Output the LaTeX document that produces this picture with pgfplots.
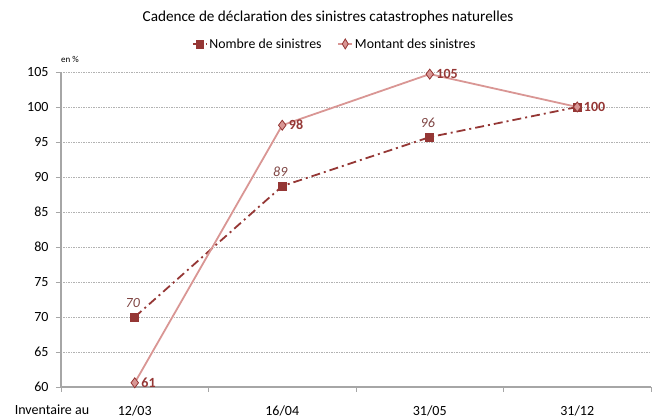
\documentclass[border=0pt]{standalone}
\usepackage{pgfplots}
\pgfplotsset{compat=1.18}
\usepackage{fontspec}
\setmainfont{Carlito}
\definecolor{darkred}{HTML}{953735}
\definecolor{pinkred}{HTML}{D99694}
\definecolor{lab}{HTML}{7E4442}
\definecolor{axgray}{HTML}{A6A6A6}
\begin{document}
\begin{tikzpicture}
\begin{axis}[
  scale only axis, width=590pt, height=315pt,
  at={(0,0)}, anchor=south west,
  xmin=-0.5, xmax=3.5, ymin=60, ymax=105,
  xtick={0,1,2,3}, xticklabels={12/03,16/04,31/05,31/12},
  minor xtick={-0.5,0.5,1.5,2.5,3.5},
  ytick={60,65,...,105},
  axis x line*=bottom, axis y line*=left,
  axis line style={draw=axgray, line width=1.3pt},
  x axis line style={-}, y axis line style={-},
  tick align=outside, major tick length=5pt, minor tick length=5pt,
  major x tick style={draw=none},
  minor x tick style={draw=axgray, line width=0.8pt},
  ytick style={draw=axgray, line width=0.8pt},
  ymajorgrids, grid style={draw=gray!60, dash pattern=on 1.5pt off 1pt, line width=0.6pt},
  tick label style={font=\fontsize{14}{16}\selectfont, text=black},
  /pgf/number format/assume math mode=true,
  xticklabel style={anchor=base, yshift=-24pt},
  yticklabel style={xshift=-4pt},
  clip=false,
  legend columns=2,
  legend style={at={(0.464,1.089)}, anchor=center, draw=none, fill=none,
    font=\fontsize{13.8}{16}\selectfont, /tikz/every even column/.append style={column sep=14pt}},
  legend image post style={xscale=0.8},
]
\addplot[darkred, line width=1.8pt, dash pattern=on 9pt off 4pt on 2pt off 4pt,
  mark=square*, mark size=4pt, mark options={solid, fill=darkred, draw=darkred, line width=0.5pt},
  point meta=explicit symbolic,
  nodes near coords={\pgfplotspointmeta},
  every node near coord/.append style={font=\fontsize{14}{16}\selectfont\itshape, text=lab, anchor=south, yshift=6pt, xshift=-2pt}]
  table[meta=m] {
x y m
0 70.0 70
1 88.7 89
2 95.7 96
3 100.0 {}
};
\addlegendentry{Nombre de sinistres}
\addplot[pinkred, line width=1.8pt,
  mark=diamond*, mark size=5pt, mark options={solid, fill=pinkred, draw=darkred, line width=0.8pt},
  point meta=explicit symbolic,
  nodes near coords={\pgfplotspointmeta},
  every node near coord/.append style={font=\fontsize{14}{16}\selectfont\bfseries, text=darkred, anchor=west, xshift=3pt}]
  table[meta=m] {
x y m
0 60.6 61
1 97.4 98
2 104.7 105
3 100.0 100
};
\addlegendentry{Montant des sinistres}
\end{axis}
\node[font=\fontsize{15.2}{17}\selectfont] at (267pt,370pt) {Cadence de déclaration des sinistres catastrophes naturelles};
\node[font=\fontsize{9}{10}\selectfont] at (9pt,328pt) {en \%};
\node[font=\fontsize{14}{16}\selectfont, anchor=base] at (-9pt,-28pt) {Inventaire au};
\path[use as bounding box] (-61pt,-30pt) rectangle (596pt,387pt);
\end{tikzpicture}
\end{document}
